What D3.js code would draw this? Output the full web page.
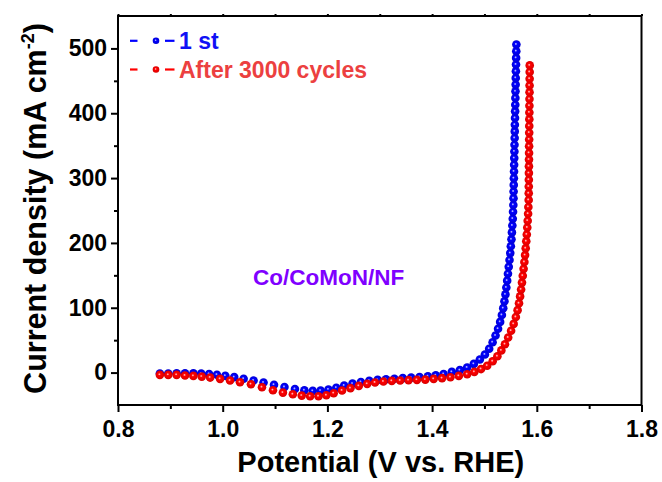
<!DOCTYPE html>
<html><head><meta charset="utf-8">
<script src="https://cdn.jsdelivr.net/npm/d3@7/dist/d3.min.js"></script>
<style>
body{margin:0;background:#fff;}
svg text{font-family:"Liberation Sans",Arial,Helvetica,sans-serif;font-weight:bold;}
</style>
</head><body>
<svg id="chart" width="662" height="482"></svg>
<script>
// ---- data ----
const seriesNames = ["1 st", "After 3000 cycles"];
const annotation = "Co/CoMoN/NF";
const xLabel = "Potential (V vs. RHE)";
const yLabelMain = "Current density (mA cm";
const yLabelSup = "-2";
const xMajorTicks = [0.8, 1.0, 1.2, 1.4, 1.6, 1.8];
const xMinorTicks = [0.9, 1.1, 1.3, 1.5, 1.7];
const yMajorTicks = [0, 100, 200, 300, 400, 500];
const yMinorTicks = [50, 150, 250, 350, 450];

const blueV = [0.880,0.896,0.912,0.928,0.944,0.959,0.974,0.989,1.005,1.022,1.040,1.059,1.078,1.098,1.118,1.138,1.156,1.172,1.187,1.202,1.217,1.232,1.248,1.264,1.280,1.296,1.312,1.328,1.344,1.360,1.376,1.392,1.407,1.422,
1.4377,1.4530,1.4669,1.4797,1.4912,1.5009,1.5090,1.5156,1.5212,1.5260,1.5300,1.5333,1.5359,1.5382,1.5401,1.5418,1.5434,1.5449,1.5464,1.5479,1.5493,1.5504,1.5516,1.5525,1.5533,1.5541,1.5546,1.5552,
1.5555,1.5557,1.5560,1.5562,1.5565,1.5567,1.5569,1.5572,1.5574,1.5577,1.5579,1.5581,1.5584,1.5586,1.5589,1.5591,1.5593,1.5596,1.5598,1.5601,1.5603,1.5605,1.5608,1.5610];
const blueJ = [-1.5,-1.5,-1.0,-1.0,-1.2,-1.6,-2.2,-3.3,-5.0,-7.0,-9.5,-12.2,-15.3,-18.8,-22.3,-25.3,-27.3,-28.2,-27.8,-26.0,-23.3,-20.0,-17.0,-14.5,-12.6,-11.2,-10.2,-9.4,-8.6,-7.8,-6.9,-5.7,-4.2,-2.3,
1.1,3.8,7.8,13.4,20.2,27.8,36.8,46.8,57.1,67.5,78.2,88.8,99.4,110.0,120.6,131.2,141.8,152.5,163.1,173.7,184.3,194.9,205.5,216.2,226.8,237.4,248.0,258.6,
268.9,279.2,289.5,299.8,310.2,320.5,330.8,341.1,351.4,361.7,372.0,382.3,392.6,402.9,413.2,423.5,433.8,444.2,454.5,464.8,475.1,485.4,495.7,506.0];

const redV = [0.880,0.896,0.912,0.928,0.944,0.960,0.976,0.995,1.014,1.033,1.054,1.075,1.096,1.115,1.134,1.151,1.167,1.183,1.198,1.212,1.228,1.244,1.260,1.276,1.291,1.307,1.323,1.339,1.355,1.371,1.387,1.403,1.419,1.435,1.451,1.467,
1.4807,1.4935,1.5052,1.5157,1.5247,1.5323,1.5392,1.5453,1.5509,1.5558,1.5600,1.5633,1.5660,1.5681,1.5700,1.5717,1.5732,1.5748,1.5763,1.5776,1.5788,1.5799,1.5809,1.5818,1.5826,1.5834,1.5839,1.5845,
1.5846,1.5847,1.5848,1.5849,1.5850,1.5851,1.5852,1.5853,1.5854,1.5855,1.5856,1.5857,1.5858,1.5859,1.5860,1.5861,1.5862,1.5863,1.5864,1.5865];
const redJ = [-3.5,-3.5,-3.5,-4.6,-5.1,-6.2,-7.7,-9.7,-12.3,-14.9,-17.9,-22.6,-27.2,-30.9,-33.4,-35.5,-36.5,-36.5,-35.0,-31.8,-27.7,-24.0,-20.5,-17.4,-15.4,-13.8,-12.8,-12.3,-11.7,-11.2,-10.8,-9.7,-8.6,-7.1,-5.1,-2.5,
1.1,5.4,10.6,17.4,25.2,34.2,43.8,54.0,64.5,75.1,85.7,96.3,106.9,117.5,128.2,138.8,149.4,160.0,170.6,181.2,191.8,202.5,213.1,223.7,234.3,244.9,255.5,266.2,
276.5,286.9,297.3,307.7,318.1,328.5,338.8,349.2,359.6,370.0,380.4,390.8,401.2,411.5,421.9,432.3,442.7,453.1,463.5,473.8];

// ---- chart ----
const svg = d3.select("#chart");
const L = 118, R = 641.5, T = 16, B = 405;
const x = d3.scaleLinear().domain([0.8, 1.8]).range([L, R]);
const y = d3.scaleLinear().domain([-50, 550]).range([B, T]);

const defs = svg.append("defs");
function grad(id, light, base, dark) {
  const g = defs.append("radialGradient").attr("id", id)
    .attr("cx", "50%").attr("cy", "50%").attr("r", "50%")
    .attr("fx", "42%").attr("fy", "40%");
  g.append("stop").attr("offset", "0%").attr("stop-color", light);
  g.append("stop").attr("offset", "35%").attr("stop-color", base);
  g.append("stop").attr("offset", "100%").attr("stop-color", dark);
}
grad("gBlue", "#5050ff", "#0000ff", "#0000d4");
grad("gRed", "#ff5050", "#ff0000", "#d80000");

const series = [
  {name: seriesNames[0], V: blueV, J: blueJ, fill: "url(#gBlue)", line: "#0000ff", text: "#1010f5"},
  {name: seriesNames[1], V: redV, J: redJ, fill: "url(#gRed)", line: "#ff0000", text: "#ec4040"}
];

// axes
const fontTick = 23;
const gx = svg.append("g").attr("transform", `translate(0,${B})`);
gx.call(d3.axisBottom(x).tickValues(xMinorTicks).tickSize(4).tickFormat(""));
const gx2 = svg.append("g").attr("transform", `translate(0,${B})`);
gx2.call(d3.axisBottom(x).tickValues(xMajorTicks).tickSize(7).tickPadding(9).tickFormat(d3.format(".1f")));
const gxt = svg.append("g").attr("transform", `translate(0,${T})`);
gxt.call(d3.axisTop(x).tickValues(xMajorTicks.concat(xMinorTicks)).tickSize(2).tickFormat(""));
const gy = svg.append("g").attr("transform", `translate(${L},0)`);
gy.call(d3.axisLeft(y).tickValues(yMinorTicks).tickSize(4).tickFormat(""));
const gy2 = svg.append("g").attr("transform", `translate(${L},0)`);
gy2.call(d3.axisLeft(y).tickValues(yMajorTicks).tickSize(7).tickPadding(4).tickFormat(d3.format("d")));

svg.selectAll(".domain").remove();
svg.selectAll(".tick line").attr("stroke", "#000").attr("stroke-width", 2);
svg.selectAll(".tick text").attr("fill", "#000").style("font-size", fontTick + "px");

// frame
svg.append("rect").attr("x", L).attr("y", T).attr("width", R - L).attr("height", B - T)
  .attr("fill", "none").attr("stroke", "#000").attr("stroke-width", 2);

// series: shaded sphere markers
function drawMarkers(g, pts, s, r) {
  const m = g.selectAll("g.m").data(pts).join("g").attr("class", "m")
    .attr("transform", d => `translate(${x(d[0])},${y(d[1])})`);
  m.append("circle").attr("r", r).attr("fill", s.fill);
  m.append("circle").attr("r", r * 0.2).attr("cx", -0.5).attr("cy", -0.6)
    .attr("fill", "#ffffff").attr("fill-opacity", 0.6);
}
series.forEach(s => {
  const pts = s.V.map((v, i) => [v, s.J[i]]);
  drawMarkers(svg.append("g"), pts, s, 4.3);
});

// legend
const legY = [40.8, 69.5];
series.forEach((s, i) => {
  const g = svg.append("g");
  g.append("line").attr("x1", 130).attr("x2", 137.5).attr("y1", legY[i]).attr("y2", legY[i])
    .attr("stroke", s.line).attr("stroke-width", 2.2);
  g.append("line").attr("x1", 165).attr("x2", 174.5).attr("y1", legY[i]).attr("y2", legY[i])
    .attr("stroke", s.line).attr("stroke-width", 2.2);
  const m = g.append("g").attr("transform", `translate(156,${legY[i]})`);
  m.append("circle").attr("r", 3.3).attr("fill", s.fill);
  m.append("circle").attr("r", 0.8).attr("cx", -0.4).attr("cy", -0.5).attr("fill", "#fff").attr("fill-opacity", 0.6);
  g.append("text").attr("x", 179).attr("y", legY[i] + 8.5).attr("fill", s.text)
    .style("font-size", "23px").text(s.name);
});

// annotation
svg.append("text").attr("x", 253).attr("y", 285).attr("fill", "#8000ff")
  .style("font-size", "22.5px").text(annotation);

// axis titles
svg.append("text").attr("x", (L + R) / 2 + 1).attr("y", 472).attr("text-anchor", "middle")
  .attr("fill", "#000").style("font-size", "29px").text(xLabel);
const yt = svg.append("text").attr("transform", `translate(46,${(T + B) / 2 - 2}) rotate(-90)`)
  .attr("text-anchor", "middle").attr("fill", "#000").style("font-size", "30.5px");
yt.append("tspan").text(yLabelMain);
yt.append("tspan").attr("dy", -12).style("font-size", "18px").text(yLabelSup);
yt.append("tspan").attr("dy", 12).text(")");
</script>
</body></html>
